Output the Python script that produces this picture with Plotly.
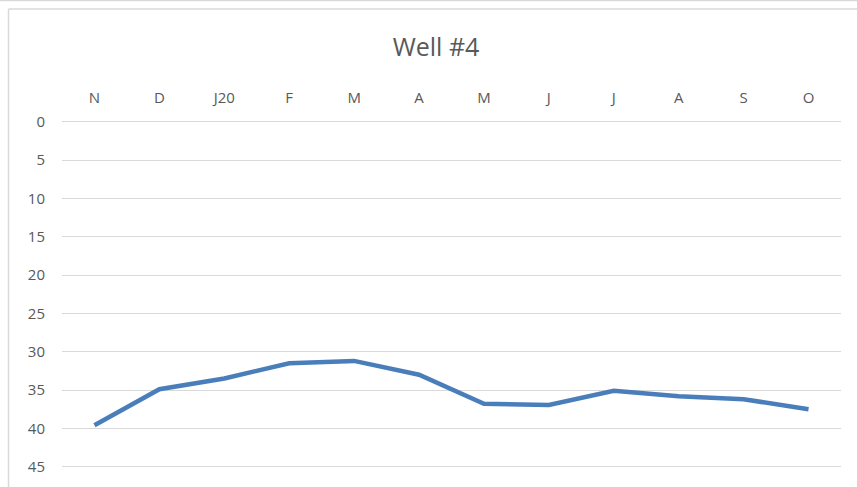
import plotly.graph_objects as go

# Monthly readings for Well #4
months = ["N", "D", "J20", "F", "M", "A", "M", "J", "J", "A", "S", "O"]
depth = [39.6, 34.9, 33.5, 31.5, 31.2, 33.0, 36.8, 36.95, 35.1, 35.8, 36.2, 37.5]
y_ticks = [0, 5, 10, 15, 20, 25, 30, 35, 40, 45]

W, H = 857, 487
L, R, T, B = 62, 16, 120, 0
plot_w = W - L - R
plot_h = H - T - B

# pixel scale of the value axis: 0 at y=121.7, 45 at y=466.7
PX_PER_UNIT = (466.7 - 121.7) / 45
y_top = -(121.7 - T) / PX_PER_UNIT
y_bottom = y_top + plot_h / PX_PER_UNIT

TEXT = "#595959"
GRID = "#d9d9d9"
LINE = "#4A7EBB"

x_idx = list(range(len(months)))

fig = go.Figure()
fig.add_trace(go.Scatter(
    x=x_idx, y=depth, mode="lines",
    line=dict(color=LINE, width=4.5),
    hoverinfo="skip", showlegend=False,
))


def px_x(px):
    return (px - L) / plot_w


def px_y(py):
    return (H - B - py) / plot_h


# outer frame lines
shapes = [
    dict(type="line", xref="paper", yref="paper",
         x0=px_x(0), x1=px_x(W), y0=px_y(0.5), y1=px_y(0.5),
         line=dict(color=GRID, width=1.5)),
    dict(type="line", xref="paper", yref="paper",
         x0=px_x(8.5), x1=px_x(W), y0=px_y(9), y1=px_y(9),
         line=dict(color=GRID, width=1.5)),
    dict(type="line", xref="paper", yref="paper",
         x0=px_x(8.5), x1=px_x(8.5), y0=px_y(9), y1=px_y(H),
         line=dict(color=GRID, width=1.5)),
]

fig.update_layout(
    width=W, height=H,
    margin=dict(l=L, r=R, t=T, b=B, pad=0),
    paper_bgcolor="white", plot_bgcolor="white",
    font=dict(family="Open Sans", color=TEXT, size=15),
    title=dict(text="Well #4", xref="container", yref="container",
               x=436 / W, y=1 - 47 / H, xanchor="center", yanchor="middle",
               font=dict(size=25, color=TEXT, family="Open Sans")),
    shapes=shapes,
    xaxis=dict(
        side="top", range=[-0.5, len(months) - 0.5],
        tickmode="array", tickvals=x_idx, ticktext=months,
        showgrid=False, zeroline=False, showline=False, ticks="",
        ticklabelstandoff=13,
        tickfont=dict(size=15, color=TEXT),
    ),
    yaxis=dict(
        range=[y_bottom, y_top],
        tickmode="array", tickvals=y_ticks,
        showgrid=True, gridcolor=GRID, gridwidth=1.3,
        zeroline=False, showline=False, ticks="",
        ticklabelstandoff=16,
        tickfont=dict(size=15, color=TEXT),
    ),
)

fig.write_html("out.html")
